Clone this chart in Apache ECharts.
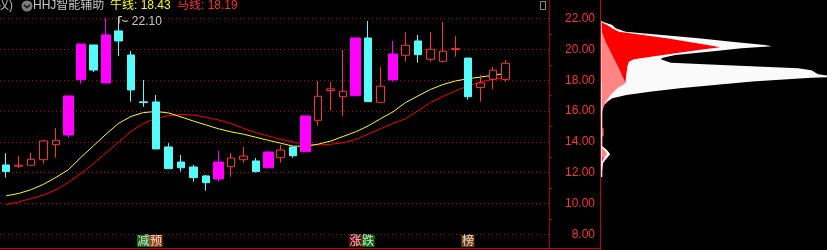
<!DOCTYPE html>
<html><head><meta charset="utf-8">
<script src="https://cdn.jsdelivr.net/npm/echarts@6/dist/echarts.min.js"></script>
<style>html,body{margin:0;padding:0;background:#000;}#c{width:827px;height:250px;}</style>
</head><body><div id="c"></div>
<script>
// ---------- data ----------
const categories = ['1','2','3','4','5','6','7','8','9','10','11','12','13','14','15','16','17','18','19','20','21','22',
  '23','24','25','26','27','28','29','30','31','32','33','34','35','36','37','38','39','40','41','42','43','44'];
const opens  = [12.50,12.42,12.48,12.84,13.82,14.45,18.04,20.29,17.82,21.20,19.64,16.60,16.59,13.67,12.69,12.37,11.79,11.59,12.39,12.84,12.76,12.32,12.97,13.67,13.36,15.40,17.34,16.93,17.00,20.74,16.57,18.02,19.62,20.55,19.36,19.23,20.00,19.44,17.52,18.06,18.06];
const closes = [12.07,12.48,12.87,14.06,14.10,16.98,20.35,18.66,20.94,20.55,17.37,16.55,13.54,12.26,12.32,11.68,11.35,12.69,12.95,13.08,12.07,13.34,13.47,13.10,15.68,16.96,17.44,17.28,20.74,16.61,17.61,19.70,20.27,19.66,20.01,19.88,20.05,16.93,17.82,18.65,19.10];
const lows   = [11.68,12.29,12.48,12.58,12.97,14.27,17.78,18.53,17.82,19.57,16.61,16.28,13.54,12.26,12.07,11.42,10.83,11.42,11.74,12.63,12.00,12.32,12.65,12.97,13.36,15.05,16.05,15.70,17.00,16.61,16.57,17.90,19.20,19.14,19.20,19.14,19.53,16.74,16.61,17.43,17.90];
const highs  = [13.26,13.08,13.28,14.12,14.90,16.98,20.35,20.29,22.02,22.10,19.90,18.02,17.04,13.91,13.15,12.50,11.85,13.41,13.28,13.67,12.95,13.41,13.80,13.67,15.68,17.95,17.89,19.96,20.74,21.84,18.86,20.55,21.11,20.94,21.13,21.78,20.87,19.44,18.34,18.86,19.31];
const magentaIdx = [5,6,8,17,21,24,28,31];
const bullLine = [10.50,10.65,10.90,11.25,11.70,12.20,13.00,13.75,14.50,15.20,15.65,15.90,15.97,15.88,15.62,15.35,15.10,14.85,14.65,14.50,14.30,14.10,13.91,13.72,13.72,13.85,14.05,14.35,14.65,15.03,15.50,15.95,16.55,16.98,17.40,17.72,17.95,18.10,18.20,18.33,18.43];
const horseLine = [9.92,10.10,10.32,10.55,10.90,11.38,11.95,12.60,13.28,13.98,14.68,15.20,15.52,15.70,15.78,15.74,15.60,15.42,15.20,14.88,14.60,14.38,14.17,14.00,13.82,13.80,13.84,13.95,14.15,14.50,14.85,15.20,15.50,16.02,16.55,16.95,17.30,17.63,17.88,18.05,18.19];
const yTicks = {min: 8, max: 22, interval: 2};
const flagIdx = 9, flagValue = 22.10;
const tagIdx = [11,12,28,29,37];
const tagText = ['减','预','涨','跌','榜'];
const tagColor = ['#1f8a1f','#c4561c','#8a0808','#138a13','#8f5214'];
const tagLevel = 7.57;
// chip distribution profile (volume, price)
const whitePrice = [21.84,21.75,21.58,21.37,21.15,20.94,20.72,20.50,20.29,20.20,20.07,19.85,19.64,19.46,19.36,19.14,18.99,18.77,18.64,18.39,18.30,18.20,18.16,17.91,17.69,17.48,17.26,17.04,16.83,16.61,16.39,16.07,15.80,13.75,13.69,13.47,13.19,12.82,12.61,12.07,11.74,11.70];
const whiteVol   = [0,4,11.3,14.7,24.7,61.3,98,131.3,164.7,171.5,141.3,108,74.7,62,60,70,121.3,198,211.3,218,227,227,211.3,152,114,79,49,25.5,11.3,6.3,3,1.5,1.3,1.3,2,6,9.3,4.3,2,1.3,1.3,0];
const redPrice = [21.78,21.70,21.55,21.37,21.15,20.94,20.72,20.50,20.29,20.14,19.96,19.75,19.53,19.36,19.20,18.90,18.40,17.85,17.80,21.78];
const redVol   = [0.8,2.5,7,11,18,42,66,87,107,119.7,98,74.7,50,33,28,26.5,25.5,24.5,0.8,0.8];
const pinkPrice = [21.10,21.05,20.50,19.85,19.20,18.55,17.91,17.80,17.48,17.04,16.61,16.18,16.10];
const pinkVol   = [1,1.6,4.7,9.7,14.7,19.7,24,24.7,16.3,9.7,4.7,1.5,1];
const pinkBumpPrice = [13.62,13.45,13.22,12.88,12.70];
const pinkBumpVol   = [1,3.5,6,2.5,1];
const pinkBarPrice = [14.88,14.88,14.34,14.34];
const pinkBarVol   = [1.2,2.5,2.5,1.2];
const deepPinkPrice = [13.05,12.95,12.75,12.75];
const deepPinkVol   = [1.2,2.4,1.8,1.2];

// ---------- build ----------
const RED = '#ff3232', CYAN = '#54fcfc', MAG = '#ff00ff';
const normalData = opens.map((o,i)=> magentaIdx.includes(i) ? ['-','-','-','-'] : [o, closes[i], lows[i], highs[i]]);
const magData = opens.map((o,i)=> magentaIdx.includes(i) ? [o, closes[i], lows[i], highs[i]] : ['-','-','-','-']);

function poly(prices, vols, color, z){
  return {type:'custom', xAxisIndex:1, yAxisIndex:1, z:z, silent:true,
    data: prices.map((p,i)=>[vols[i],p]),
    renderItem:(params, api)=>{
      if(params.dataIndex!==0) return null;
      const pts = prices.map((p,i)=>api.coord([vols[i],p]));
      return {type:'polygon', shape:{points:pts}, style:{fill:color}};
    }};
}

const fontF = 'Liberation Sans, Noto Sans CJK SC, sans-serif';
const chart = echarts.init(document.getElementById('c'), null, {renderer:'canvas'});
chart.setOption({
  backgroundColor:'#000',
  animation:false,
  grid:[
    {left:0, width:549, top:18.6, bottom:15.7},
    {left:601, width:227, top:18.6, bottom:15.7}
  ],
  xAxis:[
    {type:'category', data:categories, boundaryGap:true, gridIndex:0,
      axisLine:{show:false}, axisTick:{show:false}, axisLabel:{show:false}, splitLine:{show:false}},
    {type:'value', gridIndex:1, min:0, max:227, show:false}
  ],
  yAxis:[
    {type:'value', gridIndex:0, position:'right', min:yTicks.min, max:yTicks.max, interval:yTicks.interval,
      axisLine:{show:false}, axisTick:{show:false},
      minorTick:{show:true, splitNumber:2, length:3, lineStyle:{color:'#b00000'}},
      minorSplitLine:{show:false},
      splitLine:{show:true, lineStyle:{color:'#c00000', type:[1,3], width:1}},
      axisLabel:{align:'right', margin:46, color:RED, fontSize:12, fontFamily:fontF, formatter:v=>v.toFixed(2)}},
    {type:'value', gridIndex:1, min:yTicks.min, max:yTicks.max, show:false}
  ],
  series:[
    {type:'line', data:horseLine, symbol:'none', z:2, lineStyle:{color:'#ff0000', width:1}},
    {type:'line', data:bullLine, symbol:'none', z:2, lineStyle:{color:'#ffff00', width:1}},
    {type:'candlestick', data:normalData, barWidth:8, z:3, clip:false,
      itemStyle:{color:'#000', color0:CYAN, borderColor:RED, borderColor0:CYAN, borderWidth:1}},
    {type:'candlestick', data:magData, barWidth:10, z:3, clip:false,
      itemStyle:{color:MAG, color0:MAG, borderColor:MAG, borderColor0:MAG, borderWidth:1}},
    {type:'scatter', clip:false, z:6, silent:true,
      symbol:'path://M0,10 L0,0 L3,0 M3,5 L6,7 L9,6', symbolSize:[9,7], symbolOffset:[5,3],
      itemStyle:{color:'none', borderColor:'#d0d0d0', borderWidth:1, opacity:1},
      label:{show:true, position:'right', distance:1, offset:[0,2], color:'#c8c8c8', fontSize:12, fontFamily:fontF, formatter:()=>flagValue.toFixed(2)},
      data:[[flagIdx, flagValue]]},
    {type:'scatter', clip:false, z:5, symbol:'rect', symbolSize:[13,12],
      data: tagIdx.map((x,i)=>({value:[x, tagLevel], itemStyle:{color:tagColor[i]}, label:{formatter:tagText[i]}})),
      label:{show:true, position:'inside', color:'#fff', fontSize:12, fontFamily:'Noto Sans CJK SC'}},
    poly(whitePrice, whiteVol, '#fafafa', 1),
    poly(redPrice, redVol, '#ff0000', 2),
    poly(pinkPrice, pinkVol, '#ff8484', 3),
    poly(pinkBumpPrice, pinkBumpVol, '#ff8484', 3),
    poly(pinkBarPrice, pinkBarVol, '#ff8484', 3),
    poly(deepPinkPrice, deepPinkVol, '#ff1a8c', 4)
  ],
  graphic:[
    {type:'line', shape:{x1:549.5,y1:0,x2:549.5,y2:248}, style:{stroke:'#a00000', lineWidth:1}, z:0},
    {type:'line', shape:{x1:600.5,y1:0,x2:600.5,y2:250}, style:{stroke:'#c80000', lineWidth:1}, z:0},
    {type:'line', shape:{x1:0,y1:248.5,x2:600,y2:248.5}, style:{stroke:'#d00000', lineWidth:1}, z:0},
    {type:'rect', shape:{x:540.5,y:1.5,width:5,height:8}, style:{fill:'none', stroke:'#8a8a8a', lineWidth:1}},
    {type:'text', left:-3, top:0, style:{text:'汉)', fill:'#b4b4b4', font:'12px '+fontF}},
    {type:'circle', shape:{cx:27, cy:6, r:5.5}, style:{fill:'#7c7c7c'}},
    {type:'polyline', shape:{points:[[24,4.8],[27,7.6],[30,4.8]]}, style:{stroke:'#1a1a1a', lineWidth:1.6, fill:'none'}},
    {type:'text', left:33, top:0, style:{text:'HHJ智能辅助', fill:'#c8c8c8', font:'12px '+fontF}},
    {type:'text', left:110, top:0, style:{text:'牛线: '+bullLine[bullLine.length-1].toFixed(2), fill:'#ffff00', font:'12px '+fontF}},
    {type:'text', left:177, top:0, style:{text:'马线: '+horseLine[horseLine.length-1].toFixed(2), fill:'#ff3030', font:'12px '+fontF}}
  ]
});
</script></body></html>
